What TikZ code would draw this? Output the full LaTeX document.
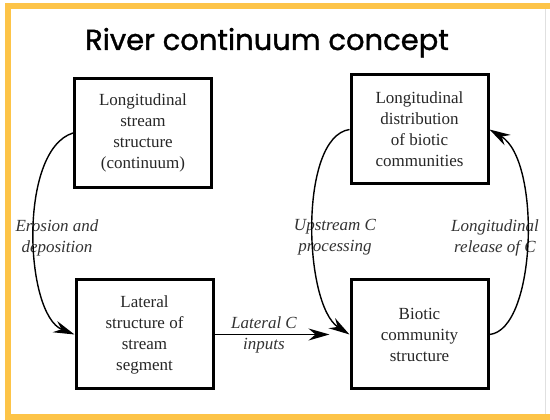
\documentclass[tikz,border=0pt]{standalone}
\usepackage{fontspec}
\setmainfont{Liberation Serif}
\newfontfamily\titlefont[FakeBold=1.2]{Poppins}
\usetikzlibrary{arrows.meta}
\definecolor{frameorange}{RGB}{253,196,72}
\tikzset{
  block/.style={draw, line width=3pt, minimum width=137pt, minimum height=109pt,
    align=center, font=\fontsize{17}{21}\selectfont, text=black!85},
  flow/.style={line width=1.4pt, -{Stealth[length=21pt,width=12pt,inset=7pt]}},
  flowlabel/.style={align=center, font=\fontsize{17}{21}\selectfont\itshape, text=black!80}
}

\begin{document}
\begin{tikzpicture}[x=10pt,y=10pt]
    \useasboundingbox (0,0) rectangle (55,42);
	% frame
	\draw [frameorange, line width=6pt] (55,41.4) -- (0.8,41.4) -- (0.8,0.3) -- (55,0.3);
	\draw [black!12, line width=0.8pt] (54.5,41.1) -- (54.5,0.6);
	\node [font=\titlefont\fontsize{29}{34}\selectfont, anchor=base] (t) at (26.7,37) {River continuum concept};
	% boxes
	\node [block] (0) at (14.3,28.7) {Longitudinal\\stream\\structure\\(continuum)};
	\node [block] (1) at (41.95,29.05) {Longitudinal\\distribution\\of biotic\\communities};
	\node [block] (2) at (14.45,8.55) {Lateral\\structure of\\stream\\segment};
	\node [block] (3) at (41.95,8.55) {Biotic\\community\\structure};
	% labels
	\node [flowlabel] (4) at (5.7,18.25) {Erosion and\\deposition};
	\node [flowlabel] (5) at (33.5,18.25) {Upstream C\\processing};
	\node [flowlabel] (6) at (49.5,18.25) {Longitudinal\\release of C};
	\node [flowlabel] (7) at (26.4,8.55) {Lateral C\\inputs};
	% edges
	\draw [flow] (0.west) .. controls +(-5.5,-1.7) and +(-5,2) .. (2.west);
	\draw [flow] (1.west) .. controls +(-5.1,-0.75) and +(-4.6,2.95) .. (3.west);
	\draw [flow] (3.east) .. controls +(4.7,0.45) and +(5.2,-3.05) .. (1.east);
	\draw [flow, shorten >=20pt] (2.east) -- (3.west);
\end{tikzpicture}
\end{document}
